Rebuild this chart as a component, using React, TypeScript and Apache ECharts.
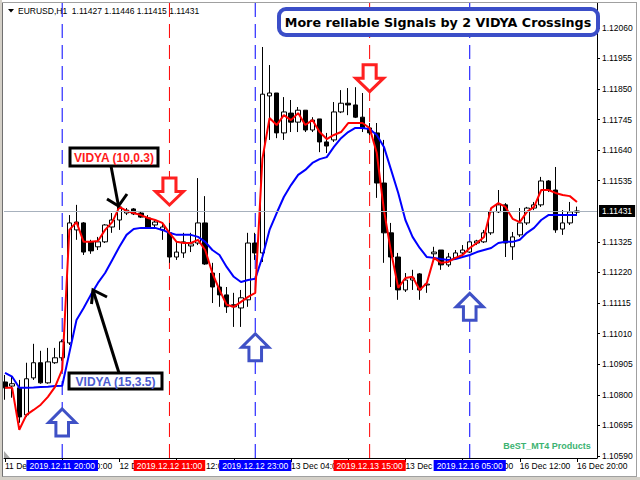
import React, { useEffect, useRef } from 'react';
import * as echarts from 'echarts';

const FONT = '"Liberation Sans", Arial, sans-serif';

// Bar index (hours since 11 Dec 12:00, weekend skipped) of x-axis ticks and their labels
const xTickIndex = [0, 8, 16, 24, 32, 40, 48, 56, 64, 72, 80];
const xTickLabels = [
  '11 Dec 2019', '11 Dec 20:00', '12 Dec 04:00', '12 Dec 12:00', '12 Dec 20:00',
  '13 Dec 04:00', '13 Dec 12:00', '13 Dec 20:00', '16 Dec 04:00', '16 Dec 12:00', '16 Dec 20:00',
];
const yTickValues = [
  1.1059, 1.10695, 1.108, 1.10905, 1.1101, 1.11115, 1.1122, 1.11325,
  1.11535, 1.1164, 1.11745, 1.1185, 1.11955, 1.1206,
];
const priceMin = 1.10583;
const priceMax = 1.12145;

const opens = [
  1.10844, 1.10830, 1.10824, 1.10731, 1.10858, 1.10910, 1.10841, 1.10910, 1.10927, 1.10978,
  1.11366, 1.11390, 1.11325, 1.11308, 1.11325, 1.11376, 1.11400, 1.11424, 1.11438, 1.11424,
  1.11407, 1.11383, 1.11366, 1.11356, 1.11273, 1.11287, 1.11311, 1.11321, 1.11390, 1.11218,
  1.11170, 1.11143, 1.11109, 1.11098, 1.11126, 1.11321, 1.11287, 1.11826, 1.11836, 1.11699,
  1.11767, 1.11736, 1.11777, 1.11709, 1.11747, 1.11668, 1.11675, 1.11771, 1.11801, 1.11795,
  1.11753, 1.11716, 1.11699, 1.11527, 1.11356, 1.11273, 1.11160, 1.11194, 1.11215, 1.11177,
  1.11284, 1.11297, 1.11246, 1.11270, 1.11287, 1.11290, 1.11321, 1.11325, 1.11356, 1.11428,
  1.11452, 1.11308, 1.11349, 1.11390, 1.11441, 1.11452, 1.11534, 1.11503, 1.11369, 1.11390,
  1.11427,
];
const closes = [
  1.10824, 1.10838, 1.10724, 1.10855, 1.10910, 1.10841, 1.10913, 1.10927, 1.10982, 1.11390,
  1.11393, 1.11290, 1.11294, 1.11325, 1.11383, 1.11400, 1.11445, 1.11434, 1.11421, 1.11410,
  1.11376, 1.11393, 1.11376, 1.11273, 1.11290, 1.11325, 1.11318, 1.11390, 1.11249, 1.11170,
  1.11143, 1.11102, 1.11102, 1.11133, 1.11321, 1.11287, 1.11832, 1.11836, 1.11699, 1.11771,
  1.11736, 1.11777, 1.11709, 1.11743, 1.11668, 1.11654, 1.11771, 1.11801, 1.11795, 1.11753,
  1.11716, 1.11699, 1.11527, 1.11356, 1.11273, 1.11160, 1.11194, 1.11201, 1.11160, 1.11180,
  1.11290, 1.11246, 1.11273, 1.11287, 1.11297, 1.11325, 1.11328, 1.11356, 1.11428, 1.11452,
  1.11321, 1.11342, 1.11390, 1.11441, 1.11452, 1.11534, 1.11503, 1.11366, 1.11390, 1.11428,
  1.11431,
];
const lows = [
  1.10783, 1.10790, 1.10704, 1.10724, 1.10851, 1.10838, 1.10838, 1.10906, 1.10917, 1.10971,
  1.11332, 1.11280, 1.11284, 1.11297, 1.11321, 1.11356, 1.11366, 1.11417, 1.11417, 1.11407,
  1.11376, 1.11376, 1.11332, 1.11253, 1.11263, 1.11270, 1.11290, 1.11314, 1.11246, 1.11115,
  1.11102, 1.11081, 1.11033, 1.11033, 1.11102, 1.11263, 1.11256, 1.11675, 1.11681, 1.11675,
  1.11702, 1.11702, 1.11702, 1.11702, 1.11633, 1.11630, 1.11668, 1.11767, 1.11760, 1.11750,
  1.11702, 1.11692, 1.11476, 1.11253, 1.11170, 1.11126, 1.11153, 1.11160, 1.11126, 1.11150,
  1.11263, 1.11229, 1.11239, 1.11263, 1.11273, 1.11287, 1.11314, 1.11321, 1.11349, 1.11424,
  1.11273, 1.11263, 1.11342, 1.11383, 1.11434, 1.11445, 1.11496, 1.11356, 1.11349, 1.11383,
  1.11415,
];
const highs = [
  1.10868, 1.10862, 1.10851, 1.10910, 1.10975, 1.10951, 1.10961, 1.10961, 1.10989, 1.11417,
  1.11452, 1.11393, 1.11332, 1.11342, 1.11386, 1.11424, 1.11458, 1.11441, 1.11441, 1.11431,
  1.11417, 1.11400, 1.11393, 1.11390, 1.11325, 1.11356, 1.11356, 1.11544, 1.11482, 1.11253,
  1.11218, 1.11170, 1.11150, 1.11160, 1.11356, 1.11356, 1.11994, 1.11932, 1.11836, 1.11822,
  1.11812, 1.11788, 1.11777, 1.11753, 1.11747, 1.11699, 1.11805, 1.11846, 1.11853, 1.11856,
  1.11836, 1.11733, 1.11733, 1.11675, 1.11390, 1.11287, 1.11218, 1.11229, 1.11218, 1.11184,
  1.11308, 1.11297, 1.11287, 1.11297, 1.11314, 1.11325, 1.11332, 1.11366, 1.11441, 1.11503,
  1.11458, 1.11359, 1.11441, 1.11445, 1.11462, 1.11548, 1.11537, 1.11582, 1.11434, 1.11462,
  1.11446,
];

// VIDYA (10, 0.3) – red
const vidyaFast = [
  1.10824, 1.10824, 1.10680, 1.10731, 1.10748, 1.10766, 1.10793, 1.10827, 1.10886, 1.11366,
  1.11393, 1.11325, 1.11325, 1.11328, 1.11366, 1.11393, 1.11445, 1.11431, 1.11424, 1.11417,
  1.11407, 1.11400, 1.11390, 1.11356, 1.11325, 1.11321, 1.11321, 1.11332, 1.11297, 1.11218,
  1.11160, 1.11109, 1.11102, 1.11119, 1.11136, 1.11150, 1.11610, 1.11750, 1.11726, 1.11760,
  1.11743, 1.11767, 1.11726, 1.11743, 1.11702, 1.11678, 1.11692, 1.11702, 1.11733, 1.11733,
  1.11733, 1.11716, 1.11630, 1.11434, 1.11290, 1.11167, 1.11201, 1.11205, 1.11160, 1.11184,
  1.11270, 1.11253, 1.11256, 1.11270, 1.11280, 1.11304, 1.11321, 1.11342, 1.11441, 1.11458,
  1.11445, 1.11404, 1.11393, 1.11428, 1.11445, 1.11503, 1.11503, 1.11493, 1.11486, 1.11482,
  1.11462,
];
// VIDYA (15, 3.5) – blue
const vidyaSlow = [
  1.10875, 1.10862, 1.10824, 1.10824, 1.10825, 1.10827, 1.10828, 1.10830, 1.10831, 1.10944,
  1.11057, 1.11098, 1.11143, 1.11184, 1.11218, 1.11263, 1.11308, 1.11349, 1.11369, 1.11373,
  1.11373, 1.11373, 1.11366, 1.11356, 1.11349, 1.11349, 1.11349, 1.11342, 1.11325, 1.11297,
  1.11280, 1.11239, 1.11205, 1.11187, 1.11194, 1.11198, 1.11273, 1.11366, 1.11424, 1.11479,
  1.11520, 1.11555, 1.11572, 1.11596, 1.11609, 1.11616, 1.11651, 1.11681, 1.11702, 1.11716,
  1.11716, 1.11712, 1.11692, 1.11651, 1.11572, 1.11493, 1.11400, 1.11342, 1.11304, 1.11273,
  1.11270, 1.11266, 1.11263, 1.11266, 1.11273, 1.11280, 1.11290, 1.11297, 1.11304, 1.11321,
  1.11325, 1.11325, 1.11332, 1.11356, 1.11373, 1.11400, 1.11417, 1.11417, 1.11417, 1.11417,
  1.11417,
];

// Signal arrows: [bar index, price]
const buySignals = [[8, 1.10705], [35, 1.10963], [65, 1.11102]];
const sellSignals = [[23, 1.11498], [51, 1.11887]];

// Vertical signal lines
const signalLineIndex = [8, 23, 35, 51, 65];
const signalLineLabels = ['2019.12.11 20:00', '2019.12.12 11:00', '2019.12.12 23:00', '2019.12.13 15:00', '2019.12.16 05:00'];
const signalLineColors = ['#0000ff', '#ff0000', '#0000ff', '#ff0000', '#0000ff'];

const bidPrice = 1.11431;

const UP_ARROW = 'path://M15,0 L30,15 L22,15 L22,30 L8,30 L8,15 L0,15 Z';
const DOWN_ARROW = 'path://M8,0 L22,0 L22,15 L30,15 L15,30 L0,15 L8,15 Z';

export default function App() {
  const ref = useRef<HTMLDivElement>(null);

  useEffect(() => {
    if (!ref.current) return;
    const chart = echarts.init(ref.current, undefined, { renderer: 'svg' });

    const candleData = opens.map((o, i) => [i, o, closes[i], lows[i], highs[i]]);
    const fastData = vidyaFast.map((v, i) => [i, v]);
    const slowData = vidyaSlow.map((v, i) => [i, v]);

    const labelBase = {
      show: true,
      color: '#ffffff',
      padding: [1, 3, 1, 3],
      fontSize: 8.5,
      fontFamily: FONT,
    };

    // markLine carries the coloured date boxes (line itself invisible) and the bid line
    const markLines: any[] = signalLineIndex.map((idx, k) => ({
      xAxis: idx,
      lineStyle: { color: signalLineColors[k], width: 0, opacity: 1 },
      label: {
        ...labelBase,
        position: 'start',
        distance: 2,
        formatter: signalLineLabels[k],
        backgroundColor: signalLineColors[k],
      },
    }));
    markLines.push({
      yAxis: bidPrice,
      lineStyle: { color: '#a7b1bd', type: 'solid', width: 1, opacity: 1 },
      label: {
        ...labelBase,
        position: 'end',
        distance: 2,
        padding: [2, 3, 1, 3],
        formatter: bidPrice.toFixed(5),
        backgroundColor: '#000000',
      },
    });

    // dashed vertical signal lines as their own series
    const signalLineSeries = signalLineIndex.map((idx, k) => ({
      type: 'line',
      data: [[idx, priceMin], [idx, priceMax]],
      symbol: 'none',
      showSymbol: false,
      silent: true,
      z: 1,
      lineStyle: { color: signalLineColors[k], type: [14, 7], width: 1, opacity: 1 },
    }));

    const option: any = {
      animation: false,
      backgroundColor: '#ffffff',
      grid: { left: 4, right: 43, top: 3, bottom: 22, show: false },
      xAxis: {
        type: 'value',
        min: -0.14,
        max: 82.8,
        axisLine: { show: true, onZero: false, lineStyle: { color: '#000000', width: 1 } },
        axisTick: { show: true, customValues: xTickIndex, length: 4, lineStyle: { color: '#000000' } },
        axisLabel: {
          customValues: xTickIndex,
          formatter: (v: number) => {
            const k = xTickIndex.indexOf(Math.round(v));
            return k >= 0 ? xTickLabels[k] : '';
          },
          align: 'left',
          margin: 3,
          color: '#000000',
          fontFamily: FONT,
          fontSize: 8.5,
        },
        splitLine: { show: false },
      },
      yAxis: {
        type: 'value',
        position: 'right',
        min: priceMin,
        max: priceMax,
        axisLine: { show: true, onZero: false, lineStyle: { color: '#000000', width: 1 } },
        axisTick: { show: true, customValues: yTickValues, length: 3, lineStyle: { color: '#000000' } },
        axisLabel: {
          customValues: yTickValues,
          formatter: (v: number) => v.toFixed(5),
          margin: 5,
          color: '#000000',
          fontFamily: FONT,
          fontSize: 8.5,
        },
        splitLine: { show: false },
      },
      series: [
        ...signalLineSeries,
        {
          type: 'line',
          name: 'markers',
          data: slowData,
          symbol: 'none',
          showSymbol: false,
          silent: true,
          z: 1,
          lineStyle: { opacity: 0 },
          markLine: {
            silent: true,
            symbol: ['none', 'none'],
            precision: 5,
            animation: false,
            data: markLines,
          },
        },
        {
          type: 'candlestick',
          data: candleData,
          barWidth: 5,
          z: 2,
          itemStyle: {
            color: '#ffffff',
            color0: '#000000',
            borderColor: '#000000',
            borderColor0: '#000000',
            borderWidth: 1,
          },
        },
        {
          type: 'line',
          name: 'VIDYA (15,3.5)',
          data: slowData,
          showSymbol: false,
          symbol: 'none',
          z: 3,
          lineStyle: { color: '#0000ff', width: 2 },
        },
        {
          type: 'line',
          name: 'VIDYA (10,0.3)',
          data: fastData,
          showSymbol: false,
          symbol: 'none',
          z: 4,
          lineStyle: { color: '#ff0000', width: 2 },
        },
        {
          type: 'scatter',
          data: sellSignals,
          symbol: DOWN_ARROW,
          symbolSize: [28, 27],
          z: 5,
          itemStyle: { color: '#ffffff', borderColor: '#ff2020', borderWidth: 3, opacity: 1 },
        },
        {
          type: 'scatter',
          data: buySignals,
          symbol: UP_ARROW,
          symbolSize: [27, 27],
          z: 5,
          itemStyle: { color: '#ffffff', borderColor: '#3f51c6', borderWidth: 3, opacity: 1 },
        },
      ],
      graphic: [
        // window frame
        { type: 'rect', shape: { x: 0, y: 0, width: 2, height: 480 }, style: { fill: '#d4d0c8' }, z: 100 },
        { type: 'line', shape: { x1: 2.5, y1: 2.5, x2: 2.5, y2: 477 }, style: { stroke: '#707070', lineWidth: 1 }, z: 100 },
        { type: 'line', shape: { x1: 2.5, y1: 2.5, x2: 637, y2: 2.5 }, style: { stroke: '#a0a0a0', lineWidth: 1 }, z: 100 },
        { type: 'line', shape: { x1: 636.5, y1: 2.5, x2: 636.5, y2: 477 }, style: { stroke: '#a0a0a0', lineWidth: 1 }, z: 100 },
        { type: 'rect', shape: { x: 0, y: 477, width: 640, height: 3 }, style: { fill: '#d4d0c8' }, z: 100 },
        { type: 'line', shape: { x1: 2.5, y1: 476.5, x2: 637, y2: 476.5 }, style: { stroke: '#a0a0a0', lineWidth: 1 }, z: 100 },
        { type: 'polygon', shape: { points: [[4, 451], [4, 458], [10, 458]] }, style: { fill: '#a8a8a8' }, z: 100 },
        // header
        { type: 'polygon', shape: { points: [[8, 9], [14, 9], [11, 12.5]] }, style: { fill: '#000000' }, z: 100 },
        {
          type: 'text', x: 18, y: 11, z: 100,
          style: { text: 'EURUSD,H1  1.11427 1.11446 1.11415 1.11431', fill: '#000000', font: '8.5px ' + FONT, align: 'left', verticalAlign: 'middle' },
        },
        // title box
        { type: 'rect', shape: { x: 279, y: 9, width: 319, height: 26, r: 7 }, style: { fill: '#ffffff', stroke: '#3b4ec8', lineWidth: 4 }, z: 100 },
        {
          type: 'text', x: 438, y: 22, z: 101,
          style: { text: 'More reliable Signals by 2 VIDYA Crossings', fill: '#000000', font: 'bold 12.7px "DejaVu Sans", sans-serif', align: 'center', verticalAlign: 'middle' },
        },
        // VIDYA (10,0.3) label and arrow
        { type: 'line', shape: { x1: 111, y1: 166, x2: 118.5, y2: 206 }, style: { stroke: '#000000', lineWidth: 3 }, z: 100 },
        { type: 'polyline', shape: { points: [[107, 199], [118.5, 206], [127, 194]] }, style: { stroke: '#000000', lineWidth: 3, fill: null }, z: 100 },
        { type: 'rect', shape: { x: 70, y: 148, width: 88, height: 18 }, style: { fill: '#ffffff', stroke: '#000000', lineWidth: 3 }, z: 100 },
        {
          type: 'text', x: 114, y: 157.5, z: 101,
          style: { text: 'VIDYA (10,0.3)', fill: '#ff1a1a', font: 'bold 12px ' + FONT, align: 'center', verticalAlign: 'middle' },
        },
        // VIDYA (15,3.5) label and arrow
        { type: 'line', shape: { x1: 119, y1: 373, x2: 93, y2: 290 }, style: { stroke: '#000000', lineWidth: 3 }, z: 100 },
        { type: 'polyline', shape: { points: [[91.5, 304], [93, 290], [107, 297]] }, style: { stroke: '#000000', lineWidth: 3, fill: null }, z: 100 },
        { type: 'rect', shape: { x: 69, y: 373, width: 93, height: 16 }, style: { fill: '#ffffff', stroke: '#000000', lineWidth: 3 }, z: 100 },
        {
          type: 'text', x: 115.5, y: 381.5, z: 101,
          style: { text: 'VIDYA (15,3.5)', fill: '#4a5bd0', font: 'bold 12px ' + FONT, align: 'center', verticalAlign: 'middle' },
        },
        // footer brand
        {
          type: 'text', x: 547, y: 446, z: 100,
          style: { text: 'BeST_MT4 Products', fill: '#3cb371', font: 'bold 9px ' + FONT, align: 'center', verticalAlign: 'middle' },
        },
      ],
    };

    chart.setOption(option);
    return () => chart.dispose();
  }, []);

  return (
    <div
      ref={ref}
      style={{ position: 'fixed', left: 0, top: 0, width: 640, height: 480, background: '#ffffff' }}
    />
  );
}
